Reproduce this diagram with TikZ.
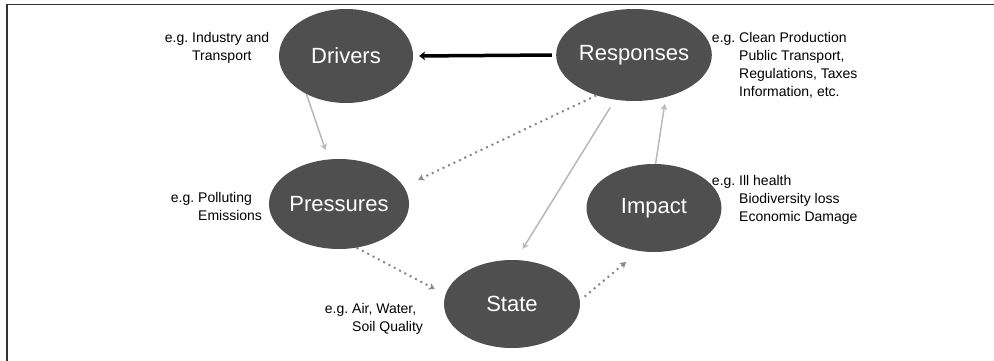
\documentclass[tikz,border=0pt]{standalone}
\usepackage{fontspec}
\setmainfont{Liberation Sans}
\usetikzlibrary{arrows.meta,shapes.geometric}
\definecolor{blobcol}{HTML}{4F4F4F}
\definecolor{framecol}{HTML}{333333}
\definecolor{lightline}{HTML}{B8B8B8}
\definecolor{dotline}{HTML}{888888}
\tikzset{
  blob/.style={ellipse, fill=blobcol, text=white, inner sep=0pt,
    font=\fontsize{22}{26}\selectfont},
  lbl/.style={anchor=north west, inner sep=0pt, align=left,
    font=\fontsize{14}{18}\selectfont},
  tip/.style={-{Stealth[length=6pt,width=7pt]}},
  solidarrow/.style={tip, draw=lightline, line width=1.5pt},
  dotarrow/.style={tip, draw=dotline, line width=2pt, dash pattern=on 2pt off 4pt},
  thickarrow/.style={-{Stealth[length=6pt,width=9pt]}, draw=black, line width=3.5pt},
}
\begin{document}
\begin{tikzpicture}[x=1pt,y=-1pt]
\useasboundingbox (0,0) rectangle (994,361);
\draw[framecol, line width=1.5pt] (7,361) -- (7,4.5) -- (994,4.5);

\node[blob, minimum width=134pt, minimum height=94pt] (D) at (346,56) {Drivers};
\node[blob, minimum width=136pt, minimum height=92pt] (R) at (634,55) {Responses};
\node[blob, minimum width=136pt, minimum height=90pt] (P) at (339,204) {Pressures};
\node[blob, minimum width=135pt, minimum height=88pt] (I) at (654,208) {Impact};
\node[blob, minimum width=136pt, minimum height=88pt] (S) at (512,304) {State};

\node[lbl] (lD) at (192,32) {\llap{e.g.\ }Industry and\\Transport};
\node[lbl] (lR) at (739,32) {\llap{e.g.\ }Clean Production\\Public Transport,\\Regulations, Taxes\\Information, etc.};
\node[lbl] (lP) at (198,192) {\llap{e.g.\ }Polluting\\Emissions};
\node[lbl] (lI) at (739,175) {\llap{e.g.\ }Ill health\\Biodiversity loss\\Economic Damage};
\node[lbl] (lS) at (352,303) {\llap{e.g.\ }Air, Water,\\Soil Quality};

\draw[thickarrow, shorten <=4pt, shorten >=6pt] (R.west) -- (D.east);
\draw[solidarrow, shorten >=10pt] (D.224) -- (P.103);
\draw[dotarrow, shorten >=16pt] (R.227) -- (P.15);
\draw[solidarrow, shorten <=9pt, shorten >=13pt] (R.247) -- (S.85);
\draw[solidarrow, shorten >=7pt] (I.88) -- (R.307);
\draw[dotarrow, shorten >=12pt] (P.292) -- (S.172);
\draw[dotarrow, shorten <=6pt, shorten >=17pt] (S.3) -- (I.251);
\end{tikzpicture}
\end{document}
